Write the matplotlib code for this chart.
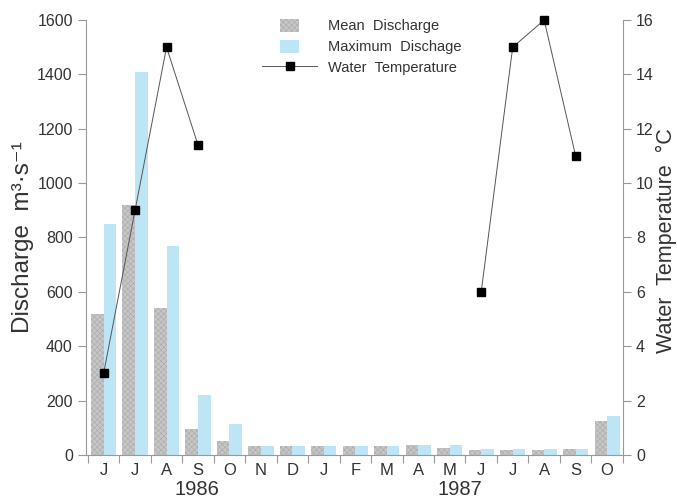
import numpy as np
import matplotlib
matplotlib.use('Agg')
from matplotlib import pyplot as plt
from matplotlib.patches import Patch, Rectangle
from matplotlib.lines import Line2D
from matplotlib.legend_handler import HandlerPatch

plt.rcParams['font.family'] = ['Liberation Sans', 'DejaVu Sans']
plt.rcParams['hatch.linewidth'] = 0.4

months = ['J', 'J', 'A', 'S', 'O', 'N', 'D', 'J', 'F', 'M', 'A', 'M', 'J', 'J', 'A', 'S', 'O']
mean_q = [520, 920, 540, 95, 52, 32, 32, 33, 33, 33, 35, 25, 18, 18, 18, 20, 125]
max_q = [850, 1410, 770, 222, 112, 32, 32, 33, 33, 33, 36, 38, 22, 22, 20, 22, 142]
temp = [3, 9, 15, 11.4, np.nan, np.nan, np.nan, np.nan, np.nan, np.nan, np.nan, np.nan,
        6, 15, 16, 11, np.nan]

x = np.arange(len(months))
grey = '#c6c6c6'
grey_hatch = '#a9a9a9'
blue = '#bce6f6'
txt = '#333333'

fig = plt.figure(figsize=(6.77, 5.01), dpi=100)
ax = fig.add_axes([0.127, 0.092, 0.793, 0.868])

ax.bar(x - 0.2, mean_q, width=0.4, color=grey, hatch='xxxxxx', edgecolor=grey_hatch, linewidth=0)
ax.bar(x + 0.2, max_q, width=0.4, color=blue, linewidth=0)

ax.set_xlim(-0.56, 16.5)
ax.set_ylim(0, 1600)
ax.set_yticks(range(0, 1601, 200))
ax.set_xticks(x)
ax.set_xticklabels(months, fontsize=12, color=txt)
ax.set_xticks(np.arange(-0.5, 16.6, 1), minor=True)
ax.tick_params(axis='x', which='major', length=0, pad=6)
ax.tick_params(axis='x', which='minor', length=6, color='#999', width=0.8)
ax.tick_params(axis='y', labelsize=11.5, labelcolor=txt, color='#999', length=6, width=0.8)
for s in ['left', 'bottom', 'right']:
    ax.spines[s].set_color('#999')
    ax.spines[s].set_linewidth(0.8)
ax.spines['top'].set_visible(False)
ax.set_ylabel('Discharge  m³·s⁻¹', fontsize=17.5, color=txt, labelpad=2)

# temperature on its own axis, gap where no readings were taken
ax2 = ax.twinx()
ax2.plot(x, temp, color='#555', lw=0.7, marker='s', markersize=5.5,
         markerfacecolor='black', markeredgecolor='black', clip_on=False)
ax2.set_ylim(0, 16)
ax2.set_yticks(range(0, 17, 2))
ax2.tick_params(axis='y', labelsize=11.5, labelcolor=txt, color='#999', length=6, width=0.8)
for s in ['left', 'bottom', 'right', 'top']:
    ax2.spines[s].set_visible(False)

fig.text(0.984, 0.52, 'Water  Temperature  °C', rotation=90, fontsize=15.5,
         color=txt, ha='center', va='center')

fig.text(0.291, 0.012, '1986', fontsize=14.5, color=txt, ha='center', va='baseline')
fig.text(0.679, 0.012, '1987', fontsize=14.5, color=txt, ha='center', va='baseline')


def square_patch(legend, orig_handle, xdescent, ydescent, width, height, fontsize):
    w = height * 1.45
    return Rectangle((width / 2 - w / 2 - xdescent, -ydescent), w, height)


handles = [Patch(facecolor=grey, hatch='xxxxxx', edgecolor=grey_hatch, linewidth=0),
           Patch(facecolor=blue, linewidth=0),
           Line2D([], [], color='#555', lw=0.7, marker='s', markersize=5.5,
                  markerfacecolor='black', markeredgecolor='black')]
fig.legend(handles, ['Mean  Discharge', 'Maximum  Dischage', 'Water  Temperature'],
           loc='upper left', bbox_to_anchor=(0.387, 0.963), frameon=False, fontsize=10.5,
           labelcolor=txt, handlelength=3.8, handleheight=1.0, handletextpad=0.7,
           labelspacing=0.45, borderpad=0, borderaxespad=0,
           handler_map={Patch: HandlerPatch(patch_func=square_patch)})

fig.savefig('out.png', dpi=100)
